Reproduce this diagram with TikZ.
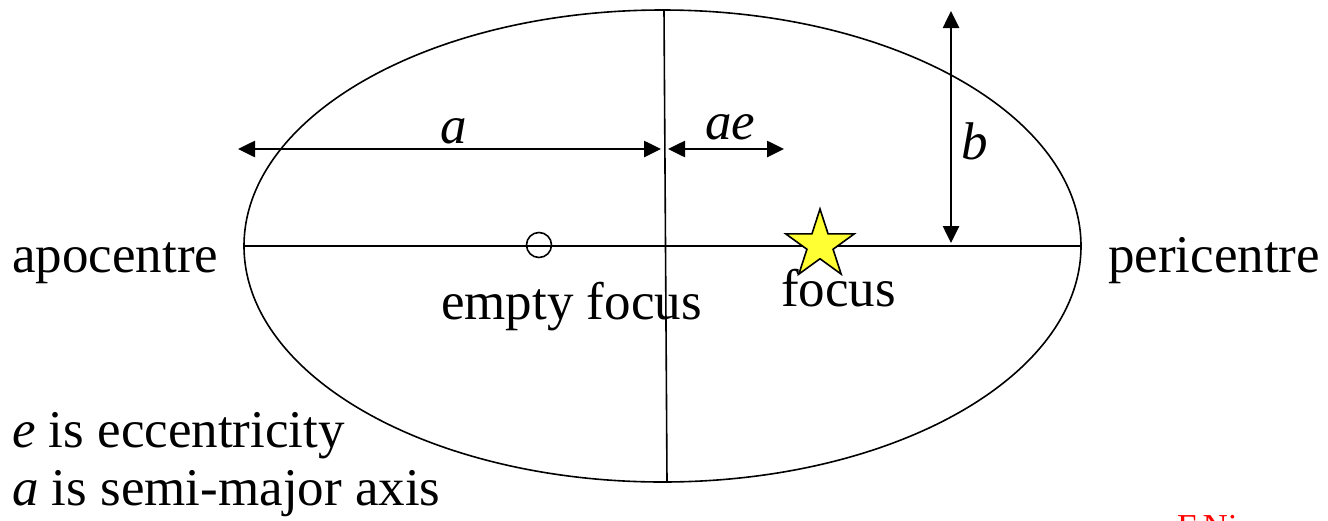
\documentclass[tikz,border=0pt]{standalone}
\usepackage{fontspec}
\setmainfont{Liberation Serif}
\usetikzlibrary{arrows.meta,shapes.geometric}
\definecolor{starfill}{RGB}{255,255,51}
\tikzset{
  big/.style={font=\fontsize{53}{60}\selectfont, inner sep=0pt, anchor=base west},
  thinline/.style={line width=1.6pt},
  dimarrow/.style={line width=2.6pt, {Triangle[length=17pt,width=16pt]}-{Triangle[length=17pt,width=16pt]}},
}
\begin{document}
\begin{tikzpicture}[x=1pt,y=-1pt]
\useasboundingbox (0,0) rectangle (1328,520);
\clip (0,0) rectangle (1328,520);
% orbit
\draw[thinline] (662.5,246) ellipse [x radius=418.5pt, y radius=236pt];
\coordinate (apo) at (244,246);
\coordinate (peri) at (1081,246);
\coordinate (top) at (664,10);
\coordinate (bot) at (667,482);
\draw[thinline] (apo) -- (peri);
\draw[thinline] (top) -- (bot);
% dimension arrows
\coordinate (aL) at (238,149);
\coordinate (aR) at (661,149);
\coordinate (eL) at (668,149);
\coordinate (eR) at (784,149);
\coordinate (bT) at (951,11);
\coordinate (bB) at (951,243);
\draw[dimarrow] (aL) -- (aR);
\draw[dimarrow] (eL) -- (eR);
\draw[dimarrow] (bT) -- (bB);
\node[big] (la) at (440,143) {\itshape a};
\node[big] (lae) at (705,139) {\itshape ae};
\node[big] (lb) at (961,159) {\itshape b};
% foci
\node[circle, draw, line width=1.6pt, minimum size=25pt, inner sep=0pt] (ef) at (539,245) {};
\node[star, star points=5, star point ratio=2.618, draw, line width=1.6pt, fill=starfill, minimum size=72pt, inner sep=0pt] (f) at (820,245) {};
% labels
\node[big] (tapo) at (12,272) {apocentre};
\node[big] (tperi) at (1108,272) {pericentre};
\node[big] (tef) at (441,319) {empty focus};
\node[big] (tf) at (781,306) {focus};
\node[big] (te) at (12,447) {\textit{e} is eccentricity};
\node[big] (ta) at (12,505) {\textit{a} is semi-major axis};
\node[font=\fontsize{35}{40}\selectfont, text=red, inner sep=0pt, anchor=base west] (credit) at (1177,538) {F.Nimmo};
\end{tikzpicture}
\end{document}
